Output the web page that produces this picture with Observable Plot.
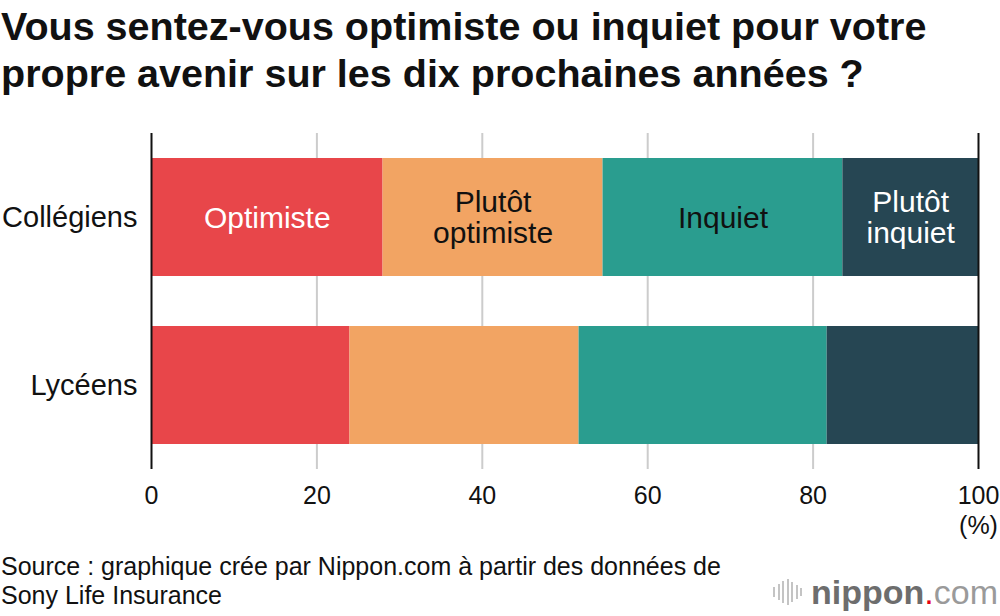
<!DOCTYPE html>
<html><head><meta charset="utf-8">
<script src="https://cdn.jsdelivr.net/npm/d3@7"></script>
<script src="https://cdn.jsdelivr.net/npm/@observablehq/plot@0.6"></script>
<style>
html,body{margin:0;padding:0;background:#fff}
body{width:1000px;height:616px;overflow:hidden;position:relative;font-family:"Liberation Sans",Arial,Helvetica,sans-serif;color:#111}
#title{position:absolute;left:1px;top:3px;font-weight:bold;font-size:39.5px;line-height:47px;margin:0;white-space:nowrap}
#chart{position:absolute;left:0;top:110px}
#source{position:absolute;left:1px;top:552px;font-size:25px;line-height:28.5px;white-space:nowrap}
#logo{position:absolute;right:2px;top:572px;height:40px;display:flex;align-items:center;white-space:nowrap}
#logo .icon{display:flex;align-items:center;gap:2.5px;margin-right:9px}
#logo .icon span{display:block;width:2px;background:#c4c4c4}
#logo .n{font-weight:bold;font-size:34px;color:#6d6d6d}
#logo .d{font-size:34px;color:#e60012}
#logo .c{font-size:34px;color:#9a9a9a}
</style></head><body>
<div id="title">Vous sentez-vous optimiste ou inquiet pour votre<br>propre avenir sur les dix prochaines années ?</div>
<div id="chart"></div>
<div id="source">Source : graphique crée par Nippon.com à partir des données de<br>Sony Life Insurance</div>
<div id="logo"><div class="icon"><span style="height:10px"></span><span style="height:16px"></span><span style="height:22px"></span><span style="height:26px"></span><span style="height:20px"></span><span style="height:14px"></span><span style="height:8px"></span></div><span class="n">nippon</span><span class="d">.</span><span class="c">com</span></div>
<script>
const groups = ["Collégiens", "Lycéens"];
const categories = ["Optimiste", "Plutôt optimiste", "Inquiet", "Plutôt inquiet"];
const collegiens = [28.0, 26.6, 29.0, 16.4];
const lyceens = [24.0, 27.7, 30.0, 18.3];
const barLabels = ["Optimiste", "Plutôt\noptimiste", "Inquiet", "Plutôt\ninquiet"];
const colors = ["#e8464a", "#f2a463", "#2a9d8f", "#264653"];
const labelColors = ["#ffffff", "#111111", "#111111", "#ffffff"];
const xTicks = [0, 20, 40, 60, 80, 100];
const gridTicks = [20, 40, 60, 80];
const frameTicks = [0, 100];

const seriesByGroup = [collegiens, lyceens];
const rows = [];
groups.forEach((g, gi) => categories.forEach((c, ci) => rows.push({
  group: g, cat: c, value: seriesByGroup[gi][ci], label: barLabels[ci], labelColor: labelColors[ci]
})));
const labelRows = rows.filter(d => d.group === groups[0]);

const chart = Plot.plot({
  width: 1000,
  height: 440,
  marginTop: 23,
  marginBottom: 81,
  marginLeft: 151,
  marginRight: 22,
  style: {fontFamily: '"Liberation Sans", Arial, Helvetica, sans-serif', color: "#111", background: "#fff"},
  x: {domain: [0, 100], label: null},
  y: {domain: groups, paddingInner: 0.3, paddingOuter: 0.15, label: null},
  color: {domain: categories, range: colors},
  marks: [
    Plot.gridX(gridTicks, {stroke: "#cccccc", strokeOpacity: 1, strokeWidth: 2}),
    Plot.barX(rows, Plot.stackX({x: "value", y: "group", fill: "cat"})),
    Plot.ruleX(frameTicks, {stroke: "#111", strokeWidth: 2}),
    Plot.text(labelRows, Plot.stackX({x: "value", y: "group", z: "cat", text: "label", fill: "labelColor", fontSize: 30, lineHeight: 1.05})),
    Plot.axisX(xTicks, {tickSize: 0, tickPadding: 17, fontSize: 25, fill: "#111", label: null}),
    Plot.axisY({tickSize: 0, tickPadding: 14, fontSize: 29, fill: "#111", label: null}),
    Plot.text(["(%)"], {x: () => 100, frameAnchor: "bottom", dy: 64, fontSize: 25, fill: "#111"})
  ]
});
document.getElementById("chart").appendChild(chart);
</script>
</body></html>
